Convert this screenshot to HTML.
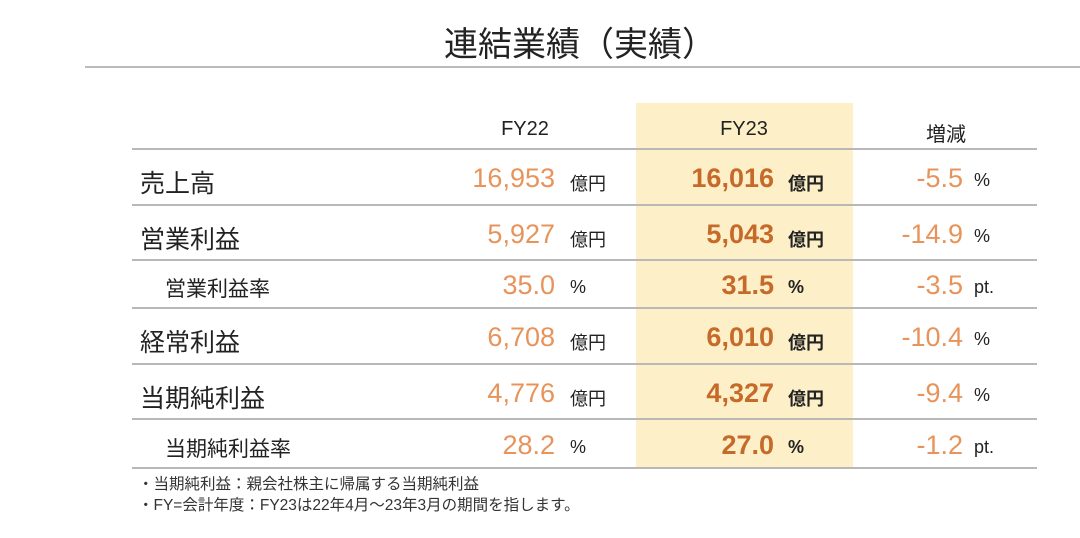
<!DOCTYPE html>
<html><head><meta charset="utf-8"><style>
body{margin:0;width:1080px;height:538px;background:#fff;position:relative;overflow:hidden;font-family:"Liberation Sans","Noto Sans CJK JP",sans-serif;color:#222}
.a{position:absolute;white-space:nowrap}
.t{left:0;width:1160px;text-align:center;top:17px;font-size:34px;color:#222}
.hl{left:636px;top:103px;width:217px;height:364px;background:#fdf0c9}
.ln{left:132px;width:905px;height:0;border-top:2px solid #b8b8b8}
.hd{font-size:20px;top:118px;text-align:center;width:200px}
.lab{font-size:25px;left:140px}
.sub{font-size:21px;left:165px}
.n1{text-align:right;width:200px;left:355px;color:#e8935a;font-size:27px}
.n2{text-align:right;width:200px;left:574px;color:#c66a2a;font-size:27px;font-weight:bold}
.n3{text-align:right;width:200px;left:763px;color:#e8935a;font-size:27px}
.u{font-size:18px}
.ub{font-size:18px;font-weight:bold}
.fn{font-size:15.5px;left:138px;color:#333}
</style></head><body>
<div class="a t">連結業績（実績）</div>
<div class="a" style="left:85px;top:66px;width:995px;border-top:2px solid #bbb"></div>
<div class="a hl"></div>
<div class="a hd" style="left:425px">FY22</div>
<div class="a hd" style="left:644px">FY23</div>
<div class="a hd" style="left:846px">増減</div>
<div class="a fn" style="top:472px">・当期純利益：親会社株主に帰属する当期純利益</div>
<div class="a fn" style="top:493px">・FY=会計年度：FY23は22年4月～23年3月の期間を指します。</div>
<script>
const labels=["売上高","営業利益","営業利益率","経常利益","当期純利益","当期純利益率"];
const fy22=["16,953","5,927","35.0","6,708","4,776","28.2"];
const fy23=["16,016","5,043","31.5","6,010","4,327","27.0"];
const chg=["-5.5","-14.9","-3.5","-10.4","-9.4","-1.2"];
const isSub=[false,false,true,false,false,true];
const lines=[148,204,259,307,363,418,467];
const body=document.body;
function add(cls,top,html,name,left){const d=document.createElement('div');d.className='a '+cls;d.style.top=top+'px';if(left!==undefined)d.style.left=left+'px';d.innerHTML=html;


body.appendChild(d);return d;}
lines.forEach((y,i)=>add('ln',y,'','row-line-'+i));
labels.forEach((l,i)=>{
 const top=lines[i],bot=lines[i+1],mid=(top+bot)/2;
 const sub=isSub[i];
 add(sub?'sub':'lab',mid-(sub?12:14)+2,l,'row-label-'+i);
 add('n1',mid-15+2,fy22[i],'fy22-value-'+i);
 add('u',mid-8+2,sub?'%':'億円','fy22-unit-'+i,570);
 add('n2',mid-15+2,fy23[i],'fy23-value-'+i);
 add('ub',mid-8+2,sub?'%':'億円','fy23-unit-'+i,788);
 add('n3',mid-15+2,chg[i],'change-value-'+i);
 add('u',mid-8+2,sub?'pt.':'%','change-unit-'+i,974);
});
</script>
</body></html>
